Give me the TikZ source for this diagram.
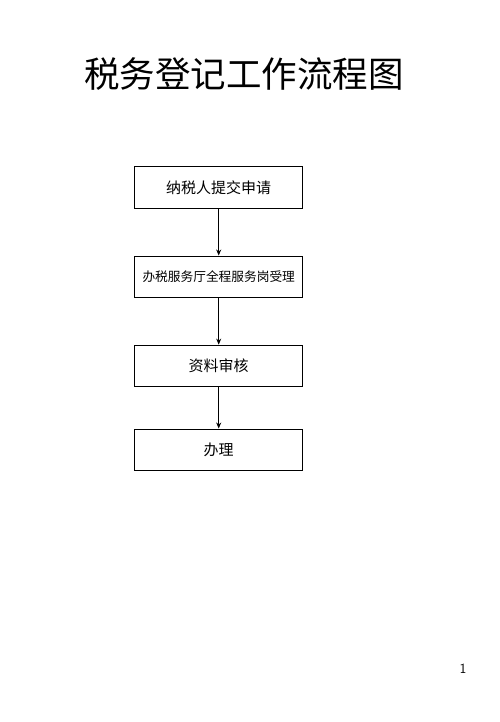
\documentclass[tikz,border=0pt]{standalone}
\usepackage{fontspec}
\newfontfamily\cjk{Noto Sans CJK SC}
\usetikzlibrary{arrows.meta}
\tikzset{
  stepbox/.style={draw, line width=0.9pt, minimum width=168pt, minimum height=41.5pt, inner sep=0pt, font=\cjk\fontsize{15}{15}\selectfont},
  flowarrow/.style={draw, line width=0.8pt, -{Stealth[length=6pt,width=5pt]}}
}
\begin{document}
\begin{tikzpicture}[x=1pt,y=-1pt]
\useasboundingbox (0,0) rectangle (500,722);
\node[font=\cjk\fontsize{35.5}{35.5}\selectfont] (title) at (244,74) {税务登记工作流程图};
\node[stepbox] (b1) at (218.7,187.5) {纳税人提交申请};
\node[stepbox, font=\cjk\fontsize{12.7}{12.7}\selectfont] (b2) at (218.7,276.7) {办税服务厅全程服务岗受理};
\node[stepbox] (b3) at (218.7,365.8) {资料审核};
\node[stepbox] (b4) at (218.7,449.7) {办理};
\draw[flowarrow] (b1) -- (b2);
\draw[flowarrow] (b2) -- (b3);
\draw[flowarrow] (b3) -- (b4);
\node[font=\sffamily\fontsize{14}{14}\selectfont] (pg) at (463,669) {1};
\end{tikzpicture}
\end{document}
